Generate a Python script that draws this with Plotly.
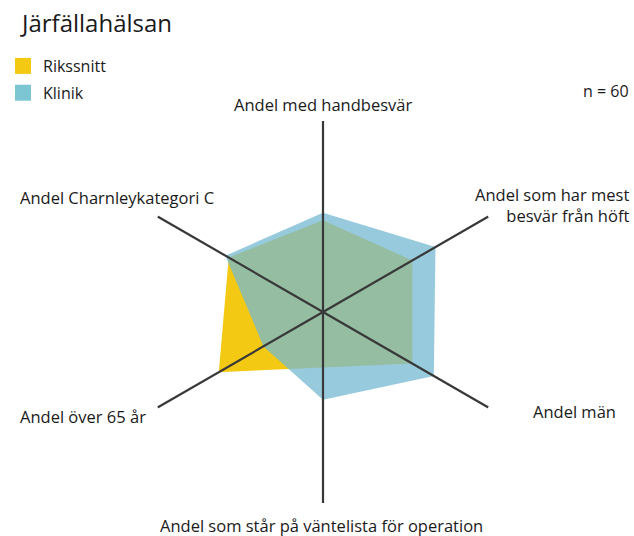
import plotly.graph_objects as go

categories = ['Andel med handbesvär', 'Andel som har mest besvär från höft', 'Andel män',
              'Andel som står på väntelista för operation', 'Andel över 65 år',
              'Andel Charnleykategori C']
label_text = ['Andel med handbesvär', 'Andel som har mest<br>besvär från höft', 'Andel män',
              'Andel som står på väntelista för operation', 'Andel över 65 år',
              'Andel Charnleykategori C']
rikssnitt = [48, 54, 54, 29, 63, 57]
klinik = [52, 68, 67, 46, 36, 59]
n_text = 'n = 60'

W, H = 634, 536
font = 'Open Sans'
txt = '#1a1a1a'
yellow = '#f3c914'
blue = 'rgba(118,184,210,0.75)'
blue_solid = '#7cc6d3'

fig = go.Figure()

fig.add_trace(go.Scatterpolar(r=rikssnitt, theta=categories, fill='toself', mode='none',
                              fillcolor=yellow, showlegend=False, hoverinfo='skip'))
fig.add_trace(go.Scatterpolar(r=klinik, theta=categories, fill='toself', mode='none',
                              fillcolor=blue, showlegend=False, hoverinfo='skip'))

# spokes drawn on top of the fills
sr, st = [], []
for c in categories:
    sr += [0, 100, None]
    st += [c, c, c]
fig.add_trace(go.Scatterpolar(r=sr, theta=st, mode='lines', line=dict(color='#383838', width=2.2),
                              showlegend=False, hoverinfo='skip', connectgaps=False))

# legend entries
for name, col in [('Rikssnitt', yellow), ('Klinik', blue_solid)]:
    fig.add_trace(go.Scatterpolar(r=[None], theta=[categories[0]], mode='markers', name=name,
                                  legendgroup=name,
                                  marker=dict(symbol='square', size=16, color=col)))

cx, cy, R = 323, 312, 191
fig.update_layout(
    width=W, height=H,
    margin=dict(l=0, r=0, t=0, b=0),
    paper_bgcolor='white',
    font=dict(family=font, size=16, color=txt),
    polar=dict(
        domain=dict(x=[(cx - R) / W, (cx + R) / W], y=[1 - (cy + R) / H, 1 - (cy - R) / H]),
        bgcolor='white',
        radialaxis=dict(range=[0, 100], showline=False, showgrid=False, showticklabels=False, ticks=''),
        angularaxis=dict(categoryorder='array', categoryarray=categories, rotation=90,
                         direction='clockwise', showline=False, showgrid=False,
                         showticklabels=False, ticks=''),
    ),
    legend=dict(x=3 / W, y=1 - 49 / H, xanchor='left', yanchor='top',
                font=dict(family=font, size=16, color=txt), itemsizing='trace',
                traceorder='grouped', tracegroupgap=3,
                bgcolor='rgba(0,0,0,0)'),
)

ann = [
    ('Järfällahälsan', 18, 23, 'left', 24),
    (n_text, 631, 91, 'right', 16),
    (label_text[0], 323, 104, 'center', 16.5),
    (label_text[1], 631, 205, 'right', 16.5),
    (label_text[2], 531, 411, 'left', 16.5),
    (label_text[3], 321, 525, 'center', 16.5),
    (label_text[4], 18, 416, 'left', 16.5),
    (label_text[5], 18, 197, 'left', 16.5),
]
for t, x, y, anc, sz in ann:
    fig.add_annotation(text=t, x=x / W, y=1 - y / H, xref='paper', yref='paper',
                       xanchor=anc, yanchor='middle', align=anc,
                       showarrow=False, font=dict(family=font, size=sz, color=txt))

fig.write_html("out.html", config={'displayModeBar': False},
               post_script="document.body.style.margin='0';")
